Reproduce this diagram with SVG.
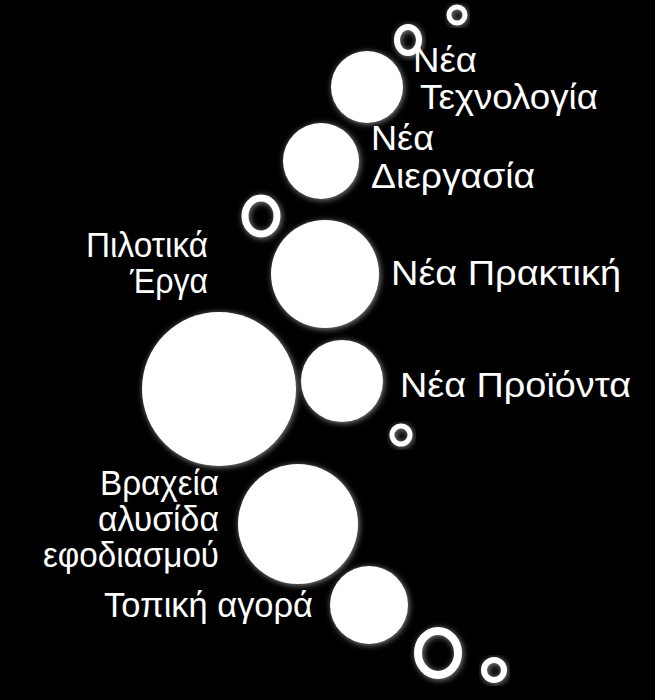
<svg xmlns="http://www.w3.org/2000/svg" width="655" height="700" viewBox="0 0 655 700">
<defs>
<filter id="glow" x="-30%" y="-30%" width="160%" height="160%">
<feGaussianBlur in="SourceAlpha" stdDeviation="3" result="b"/>
<feFlood flood-color="#ffffff" flood-opacity="0.55"/>
<feComposite in2="b" operator="in" result="g"/>
<feOffset in="g" dx="1" dy="1" result="go"/>
<feMerge><feMergeNode in="go"/><feMergeNode in="SourceGraphic"/></feMerge>
</filter>
<style>
.c{fill:#ffffff;filter:url(#glow)}
.r{fill:none;stroke:#ffffff;filter:url(#glow)}
.t{fill:#ffffff;font-family:"Liberation Sans",Arial,sans-serif;font-size:35px}
</style>
</defs>
<rect width="655" height="700" fill="#000000"/>
<g id="rings">
<circle class="r" cx="457" cy="15" r="8" stroke-width="5"/>
<ellipse class="r" cx="408" cy="40" rx="11" ry="13" stroke-width="6"/>
<ellipse class="r" cx="261" cy="216" rx="16" ry="18" stroke-width="7"/>
<circle class="r" cx="401" cy="435" r="9" stroke-width="5"/>
<ellipse class="r" cx="438" cy="653" rx="20" ry="22" stroke-width="8"/>
<circle class="r" cx="494" cy="670" r="10" stroke-width="6"/>
</g>
<g id="node-tech">
<circle class="c" cx="367" cy="87" r="36"/>
<text class="t" x="413" y="72" textLength="64" lengthAdjust="spacingAndGlyphs">Νέα</text>
<text class="t" x="420" y="109" textLength="178" lengthAdjust="spacingAndGlyphs">Τεχνολογία</text>
</g>
<g id="node-process">
<circle class="c" cx="321" cy="161" r="38"/>
<text class="t" x="371" y="150" textLength="63" lengthAdjust="spacingAndGlyphs">Νέα</text>
<text class="t" x="371" y="188" textLength="164" lengthAdjust="spacingAndGlyphs">Διεργασία</text>
</g>
<g id="node-practice">
<circle class="c" cx="325" cy="274" r="54"/>
<text class="t" x="391" y="285" textLength="230" lengthAdjust="spacingAndGlyphs">Νέα Πρακτική</text>
</g>
<g id="node-pilot">
<circle class="c" cx="219" cy="389" r="77"/>
<text class="t" x="86" y="257" textLength="122" lengthAdjust="spacingAndGlyphs">Πιλοτικά</text>
<text class="t" x="130" y="293" textLength="78" lengthAdjust="spacingAndGlyphs">Έργα</text>
</g>
<g id="node-products">
<circle class="c" cx="342" cy="381" r="41"/>
<text class="t" x="400" y="397" textLength="231" lengthAdjust="spacingAndGlyphs">Νέα Προϊόντα</text>
</g>
<g id="node-supply">
<circle class="c" cx="298" cy="524" r="60"/>
<text class="t" x="100" y="495" textLength="119" lengthAdjust="spacingAndGlyphs">Βραχεία</text>
<text class="t" x="98" y="531" textLength="121" lengthAdjust="spacingAndGlyphs">αλυσίδα</text>
<text class="t" x="43" y="567" textLength="176" lengthAdjust="spacingAndGlyphs">εφοδιασμού</text>
</g>
<g id="node-local">
<circle class="c" cx="369" cy="605" r="39"/>
<text class="t" x="104" y="617" textLength="209" lengthAdjust="spacingAndGlyphs">Τοπική αγορά</text>
</g>
<g id="connectors"/>
</svg>
